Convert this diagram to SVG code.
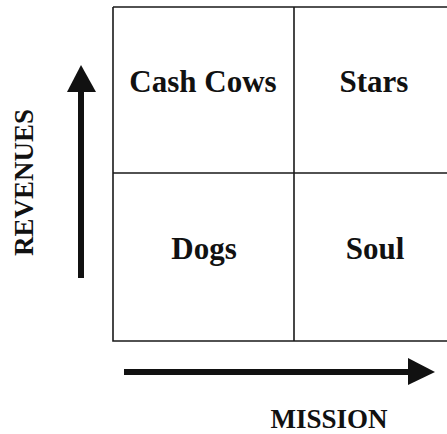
<svg xmlns="http://www.w3.org/2000/svg" width="447" height="434" viewBox="0 0 447 434">
<style>
.cell{fill:none;stroke:#1a1a1a;stroke-width:1.6}
.lbl{font-family:"Liberation Serif","Times New Roman",serif;font-weight:bold;font-size:31px;fill:#111;text-anchor:middle}
.axis{font-family:"Liberation Serif","Times New Roman",serif;font-weight:bold;font-size:27px;fill:#111;text-anchor:middle}
.ax{stroke:#111;stroke-width:6;fill:none}
</style>
<rect width="447" height="434" fill="#fff"/>
<g id="grid">
<path class="cell" d="M113,7 H449 M113,7 V341 H449 M294,7 V341 M113,173 H449"/>
</g>
<g id="cash-cows"><text class="lbl" x="203" y="92">Cash Cows</text></g>
<g id="stars"><text class="lbl" x="374" y="92">Stars</text></g>
<g id="dogs"><text class="lbl" x="204" y="259">Dogs</text></g>
<g id="soul"><text class="lbl" x="375" y="259">Soul</text></g>
<g id="connectors">
<line class="ax" x1="81" y1="278" x2="81" y2="88"/>
<polygon points="81,65 96,92 67,92" fill="#111"/>
<line class="ax" x1="124" y1="372" x2="412" y2="372"/>
<polygon points="435,372 408,358 408,385" fill="#111"/>
</g>
<g id="revenues"><text class="axis" transform="translate(33,182.5) rotate(-90)" x="0" y="0">REVENUES</text></g>
<g id="mission"><text class="axis" x="329" y="428">MISSION</text></g>
</svg>
